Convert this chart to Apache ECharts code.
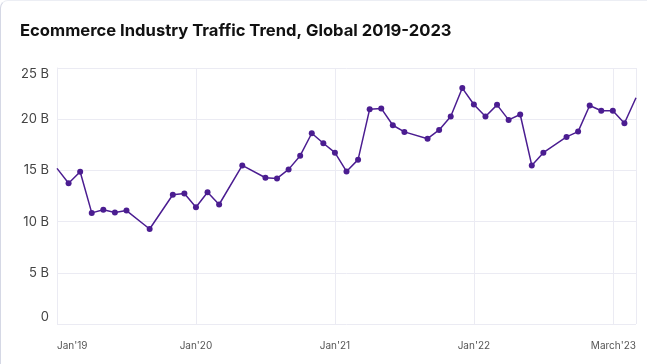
<!DOCTYPE html>
<html>
<head>
<meta charset="utf-8">
<script src="https://cdn.jsdelivr.net/npm/echarts@6/dist/echarts.min.js"></script>
<style>
html,body{margin:0;padding:0;background:#fff;width:647px;height:364px;overflow:hidden;}
#card{position:absolute;left:0;top:0;width:700px;height:400px;border-left:1.5px solid #d5d8e5;border-top:1px solid #eceef4;border-top-left-radius:8px;box-sizing:border-box;}
#chart{position:absolute;left:0;top:0;width:647px;height:364px;}
</style>
</head>
<body>
<div id="card"></div>
<div id="chart"></div>
<script>
// month index (0 = Jan 2019) and traffic in billions
const months = [0,1,2,3,4,5,6,8,10,11,12,13,14,16,18,19,20,21,22,23,24,25,26,27,28,29,30,32,33,34,35,36,37,38,39,40,41,42,44,45,46,47,48,49,50];
const traffic = [15.2,13.75,14.87,10.85,11.15,10.88,11.08,9.28,12.62,12.75,11.4,12.87,11.67,15.49,14.28,14.22,15.1,16.44,18.63,17.65,16.73,14.9,16.05,20.98,21.05,19.41,18.76,18.1,18.95,20.26,23.04,21.44,20.26,21.4,19.93,20.46,15.49,16.73,18.27,18.79,21.34,20.82,20.82,19.6,22.1];
const xTickLabels = {0:"Jan'19",12:"Jan'20",24:"Jan'21",36:"Jan'22",50:"March'23"};
const yTicks = [0,5,10,15,20,25];
const titleText = 'Ecommerce Industry Traffic Trend, Global 2019-2023';

const data = months.map((m,i)=>{
  const d = {value:[m,traffic[i]]};
  if (i===0 || i===months.length-1) d.symbol='none';
  return d;
});

const chart = echarts.init(document.getElementById('chart'), null, {renderer:'canvas'});
chart.setOption({
  animation:false,
  title:{text:titleText,left:15,top:17,textStyle:{fontFamily:'Inter',fontWeight:'bold',fontSize:16.6,color:'#111'}},
  grid:{left:57,right:11,top:68,bottom:40,containLabel:false},
  xAxis:{type:'value',min:0,max:50,interval:12,
    axisLine:{show:false},axisTick:{show:false},
    splitLine:{show:true,lineStyle:{color:'#ebebf3',width:1}},
    axisLabel:{color:'#555',fontFamily:'Inter',fontSize:10,margin:17,
      alignMinLabel:'left',alignMaxLabel:'right',
      formatter:v=>xTickLabels[v]||''}
  },
  yAxis:{type:'value',min:yTicks[0],max:yTicks[yTicks.length-1],interval:5,
    axisLine:{show:true,lineStyle:{color:'#ebebf3'}},axisTick:{show:false},
    splitLine:{show:true,lineStyle:{color:'#ebebf3',width:1}},
    axisLabel:{color:'#444',fontFamily:'Inter',fontSize:13,margin:8,
      verticalAlignMinLabel:'bottom',verticalAlignMaxLabel:'top',
      formatter:v=>v===0?'0':v+' B'}
  },
  series:[{type:'line',data:data,symbol:'circle',symbolSize:6,
    lineStyle:{color:'#4b1d91',width:1.5},itemStyle:{color:'#4b1d91'},clip:true}]
});
</script>
</body>
</html>
